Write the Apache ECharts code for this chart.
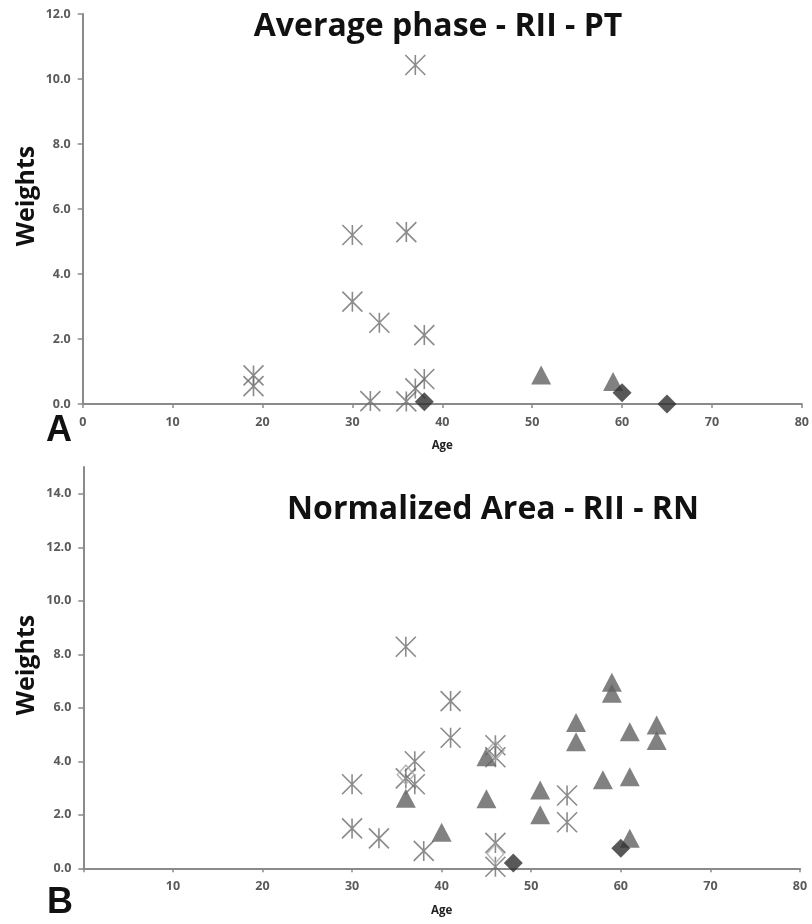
<!DOCTYPE html>
<html>
<head>
<meta charset="utf-8">
<script src="https://cdn.jsdelivr.net/npm/echarts@6/dist/echarts.min.js"></script>
<style>html,body{margin:0;padding:0;background:#fff}#c{width:812px;height:924px}</style>
</head>
<body>
<div id="c"></div>
<script>
// ---- Data (Age, Weight) ----
// Panel A: Average phase - RII - PT
const aStars = [[19,0.88],[19,0.55],[30,5.2],[30,3.15],[32,0.09],[33,2.5],[36,5.29],[36,0.08],[37,10.43],[37,0.48],[38,2.12],[38,0.77]];
const aTriangles = [[51,0.89],[59,0.69]];
const aDiamonds = [[38,0.07],[60,0.35],[65,0.0]];
// Panel B: Normalized Area - RII - RN
const bStars = [[30,3.14],[30,1.49],[33,1.12],[36,8.28],[36,3.36],[37,4.0],[37,3.14],[38,0.65],[41,6.25],[41,4.88],[46,4.6],[46,4.15],[46,0.95],[46,0.06],[54,2.72],[54,1.72]];
const bTriangles = [[36,2.62],[40,1.35],[45,4.17],[45,2.6],[51,2.93],[51,2.0],[55,5.45],[55,4.73],[58,3.31],[59,6.95],[59,6.54],[61,5.1],[61,3.42],[61,1.12],[64,5.36],[64,4.78]];
const bDiamonds = [[48,0.2],[60,0.75]];
const bHollowDiamonds = [[36,3.5],[46,4.4],[46,0.55]];
// Tick values
const xTicksA = [0,10,20,30,40,50,60,70,80];
const xTicksB = [10,20,30,40,50,60,70,80];
const yTicksA = [0,2,4,6,8,10,12];
const yTicksB = [0,2,4,6,8,10,12,14];
const titleA = 'Average phase - RII - PT';
const titleB = 'Normalized Area - RII - RN';

const axisColor = '#8a8a8a';
const labelStyle = {fontFamily:'Open Sans', fontWeight:'bold', fontSize:12.5, color:'#5a5a5a'};
const starPath = 'path://M0,0L20,20M20,0L0,20M10,0L10,20';

function xAxis(gi, ticks) {
  return {
    type:'value', gridIndex:gi, min:0, max:80, interval:10,
    axisLine:{show:true, onZero:false, lineStyle:{color:axisColor, width:2}},
    axisTick:{show:true, length:4, lineStyle:{color:axisColor, width:1.5}, customValues:ticks.concat(gi===1?[0]:[])},
    axisLabel:Object.assign({margin:12, customValues:ticks}, labelStyle),
    splitLine:{show:false},
    name:'Age', nameLocation:'middle', nameGap:36,
    nameTextStyle:{fontFamily:'Open Sans', fontWeight:'bold', fontSize:11.5, color:'#222'}
  };
}
function yAxis(gi, ticks, max) {
  return {
    type:'value', gridIndex:gi, min:0, max:max, interval:2,
    axisLine:{show:true, onZero:false, lineStyle:{color:axisColor, width:2}},
    axisTick:{show:true, length:5, lineStyle:{color:axisColor, width:1.5}, customValues:ticks},
    axisLabel:Object.assign({margin:12, customValues:ticks, formatter:v=>v.toFixed(1)}, labelStyle),
    splitLine:{show:false}
  };
}
function stars(gi, data) {
  return {type:'scatter', xAxisIndex:gi, yAxisIndex:gi, data:data, symbol:starPath, symbolSize:20,
    itemStyle:{color:'rgba(0,0,0,0)', borderColor:'#6e6e6e', borderWidth:1.6}, z:2};
}
function tris(gi, data) {
  return {type:'scatter', xAxisIndex:gi, yAxisIndex:gi, data:data, symbol:'triangle', symbolSize:[20,19],
    itemStyle:{color:'#626262'}, z:3};
}
function dias(gi, data) {
  return {type:'scatter', xAxisIndex:gi, yAxisIndex:gi, data:data, symbol:'diamond', symbolSize:[19,19],
    itemStyle:{color:'#2e2e2e'}, z:4};
}
function hollow(gi, data) {
  return {type:'scatter', xAxisIndex:gi, yAxisIndex:gi, data:data, symbol:'diamond', symbolSize:[17,19],
    itemStyle:{color:'rgba(255,255,255,0)', borderColor:'#a8a8a8', borderWidth:1.5}, z:5};
}

const chart = echarts.init(document.getElementById('c'), null, {renderer:'canvas'});
chart.setOption({
  animation:false,
  backgroundColor:'#ffffff',
  grid:[
    {left:82.7, right:9.3, top:14, height:390},
    {left:83.3, right:12, top:467, height:401.3}
  ],
  xAxis:[xAxis(0, xTicksA), xAxis(1, xTicksB)],
  yAxis:[yAxis(0, yTicksA, 12), yAxis(1, yTicksB, 15)],
  series:[
    stars(0, aStars), tris(0, aTriangles), dias(0, aDiamonds),
    stars(1, bStars), tris(1, bTriangles), dias(1, bDiamonds), hollow(1, bHollowDiamonds)
  ],
  graphic:[
    {type:'text', x:438, y:27, style:{text:titleA, font:'bold 32px "Open Sans"', fill:'#111', align:'center', verticalAlign:'middle'}},
    {type:'text', x:493, y:510, style:{text:titleB, font:'bold 32px "Open Sans"', fill:'#111', align:'center', verticalAlign:'middle'}},
    {type:'text', x:27, y:196, rotation:Math.PI/2, style:{text:'Weights', font:'bold 25px "Open Sans"', fill:'#111', align:'center', verticalAlign:'middle'}},
    {type:'text', x:27, y:665, rotation:Math.PI/2, style:{text:'Weights', font:'bold 25px "Open Sans"', fill:'#111', align:'center', verticalAlign:'middle'}},
    {type:'text', x:59, y:431, style:{text:'A', font:'bold 36px "Liberation Sans"', fill:'#111', align:'center', verticalAlign:'middle'}},
    {type:'text', x:60, y:903, style:{text:'B', font:'bold 36px "Liberation Sans"', fill:'#111', align:'center', verticalAlign:'middle'}}
  ]
});
</script>
</body>
</html>
